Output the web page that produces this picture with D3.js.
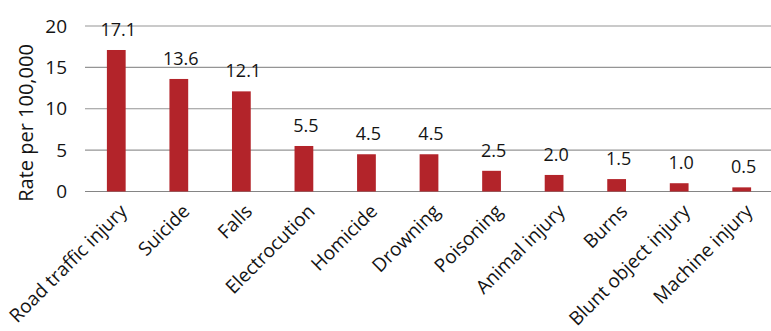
<!DOCTYPE html>
<html>
<head>
<meta charset="utf-8">
<script src="https://cdn.jsdelivr.net/npm/d3@7"></script>
<style>
  html, body { margin: 0; padding: 0; background: #fff; }
  svg { display: block; font-family: "Open Sans", "Noto Sans", sans-serif; }
</style>
</head>
<body>
<svg id="chart" width="771" height="331"></svg>
<script>
// Injury death rates by cause
const categories = ["Road traffic injury", "Suicide", "Falls", "Electrocution", "Homicide",
  "Drowning", "Poisoning", "Animal injury", "Burns", "Blunt object injury", "Machine injury"];
const rates = [17.1, 13.6, 12.1, 5.5, 4.5, 4.5, 2.5, 2.0, 1.5, 1.0, 0.5];
const yTicks = [0, 5, 10, 15, 20];
const yTitle = "Rate per 100,000";

const svg = d3.select("#chart");
const plot = { left: 85, right: 773, top: 26, bottom: 191.5 };
const ink = "#141414";

const x = d3.scaleBand().domain(categories).range([plot.left, plot.right]).paddingInner(0.7).paddingOuter(0.35);
const y = d3.scaleLinear().domain([0, 20]).range([plot.bottom, plot.top]);

// horizontal gridlines
svg.append("g").selectAll("line").data(yTicks).join("line")
  .attr("x1", plot.left).attr("x2", 771)
  .attr("y1", d => y(d)).attr("y2", d => y(d))
  .attr("stroke", d => d === 0 ? "#858585" : "#959595")
  .attr("stroke-width", 1.2);

// y axis labels
const yAxis = d3.axisLeft(y).tickValues(yTicks).tickSize(0).tickPadding(0).tickFormat(d3.format("d"));
const ya = svg.append("g").attr("transform", `translate(67,0)`).call(yAxis);
ya.select(".domain").remove();
ya.selectAll("text").attr("font-size", 19).attr("fill", ink).attr("font-family", "Open Sans");

// y axis title
svg.append("text")
  .attr("transform", `translate(26,123) rotate(-90)`)
  .attr("text-anchor", "middle").attr("dy", "0.35em")
  .attr("font-size", 20).attr("fill", ink)
  .text(yTitle);

// bars
svg.append("g").selectAll("rect").data(rates).join("rect")
  .attr("x", (d, i) => x(categories[i]))
  .attr("width", x.bandwidth())
  .attr("y", d => y(d))
  .attr("height", d => y(0) - y(d))
  .attr("fill", "#b3242a");

// value labels
svg.append("g").selectAll("text").data(rates).join("text")
  .attr("x", (d, i) => x(categories[i]) + x.bandwidth() / 2 + 2)
  .attr("y", d => y(d) - 14)
  .attr("text-anchor", "middle")
  .attr("font-size", 18).attr("fill", ink)
  .text(d => d.toFixed(1));

// category labels, rotated
const xAxis = d3.axisBottom(x).tickSize(0).tickPadding(0);
const xa = svg.append("g").attr("transform", `translate(0,${plot.bottom})`).call(xAxis);
xa.select(".domain").remove();
xa.selectAll("text")
  .attr("font-size", 19).attr("fill", ink).attr("font-family", "Open Sans")
  .attr("text-anchor", "end")
  .attr("dy", 0).attr("y", 0)
  .attr("transform", "translate(12,21) rotate(-45)");
</script>
</body>
</html>
